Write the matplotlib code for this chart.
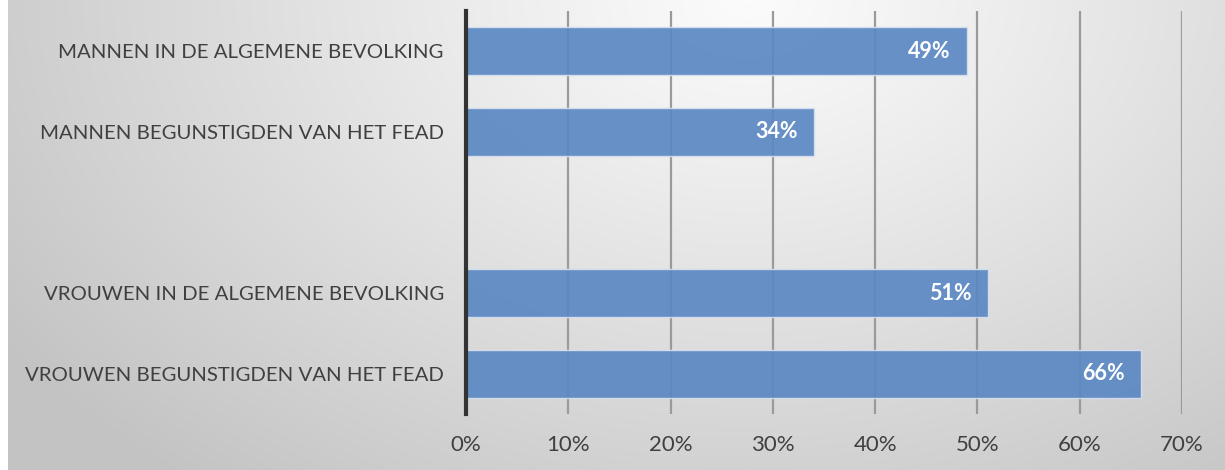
import matplotlib.pyplot as plt
import numpy as np

categories = ['MANNEN IN DE ALGEMENE BEVOLKING',
              'MANNEN BEGUNSTIGDEN VAN HET FEAD',
              '',
              'VROUWEN IN DE ALGEMENE BEVOLKING',
              'VROUWEN BEGUNSTIGDEN VAN HET FEAD']
values = [0.49, 0.34, None, 0.51, 0.66]
xticks = [0, 0.1, 0.2, 0.3, 0.4, 0.5, 0.6, 0.7]

plt.rcParams['font.family'] = ['Lato', 'DejaVu Sans']

W, H = 1225, 470
fig = plt.figure(figsize=(W / 100, H / 100), dpi=100)
fig.patch.set_facecolor('white')

# radial gradient background
bg = fig.add_axes([8 / W, 0, 1 - 8 / W, 1])
yy, xx = np.mgrid[0:H, 0:W - 8]
d = np.sqrt(((xx - 740) / 900.0) ** 2 + ((yy - 0) / 620.0) ** 2)
shade = 0.985 - 0.22 * np.clip(d, 0, 1) ** 1.1
bg.imshow(np.dstack([shade] * 3), aspect='auto', extent=[0, 1, 0, 1])
bg.axis('off')

ax = fig.add_axes([466 / W, 1 - 414 / H, (1182 - 466) / W, (414 - 11) / H])
ax.patch.set_alpha(0)

ypos = np.arange(len(categories))
for y, v in zip(ypos, values):
    if v is None:
        continue
    ax.barh(y, v, height=0.6, color='#5b88c3', alpha=0.92,
            edgecolor='#d6e0ee', linewidth=1.0, zorder=3)
    ax.text(v - 0.016, y, f'{round(v * 100)}%', ha='right', va='center',
            color='white', fontsize=15.5, fontweight='bold', zorder=4)

ax.set_xlim(0, 0.7)
ax.set_ylim(len(categories) - 0.5, -0.5)
ax.set_xticks(xticks)
ax.set_xticklabels([f'{round(t * 100)}%' for t in xticks])
ax.set_yticks(ypos)
ax.set_yticklabels(categories)
ax.grid(axis='x', color='#9a9a9a', linewidth=1.6, zorder=1)
ax.set_axisbelow(True)
for s in ['top', 'right', 'bottom']:
    ax.spines[s].set_visible(False)
ax.spines['left'].set_color('#333333')
ax.spines['left'].set_linewidth(3)
ax.spines['left'].set_zorder(5)
ax.tick_params(axis='y', length=0, pad=16, labelsize=14.7, labelcolor='#404040')
ax.tick_params(axis='x', length=0, pad=15, labelsize=16, labelcolor='#404040')

fig.savefig('out.png', dpi=100)
